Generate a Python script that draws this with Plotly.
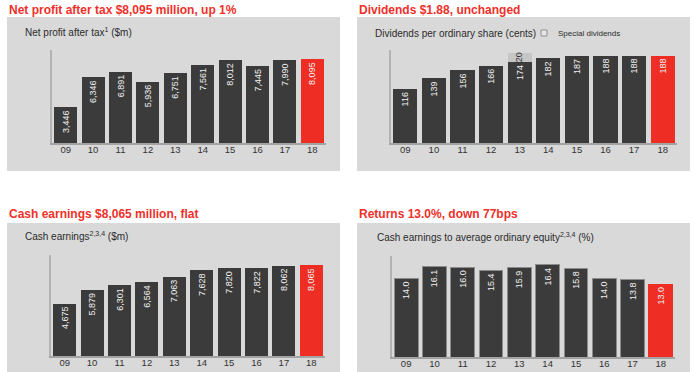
import plotly.graph_objects as go

# ---------------- data ----------------
years = ["09", "10", "11", "12", "13", "14", "15", "16", "17", "18"]
net_profit = [3446, 6346, 6891, 5936, 6751, 7561, 8012, 7445, 7990, 8095]
dividends = [116, 139, 156, 166, 174, 182, 187, 188, 188, 188]
special_div = [0, 0, 0, 0, 20, 0, 0, 0, 0, 0]
cash_earnings = [4675, 5879, 6301, 6564, 7063, 7628, 7820, 7822, 8062, 8065]
returns = [14.0, 16.1, 16.0, 15.4, 15.9, 16.4, 15.8, 14.0, 13.8, 13.0]

titles = ["Net profit after tax $8,095 million, up 1%",
          "Dividends $1.88, unchanged",
          "Cash earnings $8,065 million, flat",
          "Returns 13.0%, down 77bps"]
subtitles = ["Net profit after tax<sup>1</sup> ($m)",
             "Dividends per ordinary share (cents)",
             "Cash earnings<sup>2,3,4</sup> ($m)",
             "Cash earnings to average ordinary equity<sup>2,3,4</sup> (%)"]
legend_label = "Special dividends"

# ---------------- style ----------------
W, H = 695, 372
DARK = "#3c3b3b"
RED = "#ee2d24"
PANEL = "#d9d9d9"
SPECIAL = "#c6c6c6"
TITLE_RED = "#f0302a"
FONT = "Liberation Sans, Arial, sans-serif"


def fx(x):
    return x / W


def fy(y):
    return 1 - y / H


def colors(n):
    return [DARK] * (n - 1) + [RED]


fig = go.Figure()

panels = [
    dict(vals=net_profit, text=[f"{v:,}" for v in net_profit], n="", xd=(52, 326), yd=(50, 143), rng=9000,
         box=(7, 17, 340, 171), title_xy=(7, 10), sub_xy=(23, 32), outline=None),
    dict(vals=dividends, text=[str(v) for v in dividends], n="2", xd=(391, 677), yd=(50, 143), rng=200,
         box=(357, 17, 690, 171), title_xy=(357, 10), sub_xy=(373, 33), outline=None),
    dict(vals=cash_earnings, text=[f"{v:,}" for v in cash_earnings], n="3", xd=(51, 325), yd=(255, 356), rng=9000,
         box=(7, 223, 340, 372), title_xy=(7, 214), sub_xy=(23, 236), outline=None),
    dict(vals=returns, text=[f"{v:.1f}" for v in returns], n="4", xd=(392, 675), yd=(256, 357), rng=18,
         box=(357, 223, 690, 372), title_xy=(357, 214), sub_xy=(375, 237), outline="#8c8c8c"),
]

shapes = []
annotations = []
layout_axes = {}

for i, p in enumerate(panels):
    xa = "x" + p["n"]
    ya = "y" + p["n"]
    mline = dict(color=[p["outline"]] * 9 + [RED], width=1) if p["outline"] else dict(width=0)
    fig.add_trace(go.Bar(
        x=years, y=p["vals"], xaxis=xa, yaxis=ya,
        marker=dict(color=colors(len(years)), line=mline),
        text=p["text"], textposition="inside", insidetextanchor="end", textangle=-90,
        textfont=dict(color="#f2f2f2", size=9, family=FONT),
        hoverinfo="skip",
    ))
    if i == 1:
        fig.add_trace(go.Bar(
            x=years, y=special_div, xaxis=xa, yaxis=ya,
            marker=dict(color=SPECIAL, line=dict(width=0)),
            hoverinfo="skip",
        ))
        for k, (base, sp) in enumerate(zip(dividends, special_div)):
            if sp:
                annotations.append(dict(x=k, y=base + sp / 2, xref=xa, yref=ya, text=str(sp),
                                        textangle=-90, showarrow=False,
                                        font=dict(size=9, color="#333333", family=FONT)))

    layout_axes["xaxis" + p["n"]] = dict(
        domain=[fx(p["xd"][0]), fx(p["xd"][1])], anchor=ya, type="category",
        range=[-0.5, len(years) - 0.5], showline=True, linecolor="#a3a3a3", linewidth=2,
        ticks="", showgrid=False, zeroline=False, fixedrange=True, ticklabelstandoff=-3,
        tickfont=dict(size=9.5, color="#333333", family=FONT),
    )
    layout_axes["yaxis" + p["n"]] = dict(
        domain=[fy(p["yd"][1]), fy(p["yd"][0])], anchor=xa, range=[0, p["rng"]],
        showline=True, linecolor="#b3b3b3", linewidth=1.5, showticklabels=False,
        ticks="", showgrid=False, zeroline=False, fixedrange=True,
    )

    x0, y0, x1, y1 = p["box"]
    shapes.append(dict(type="rect", xref="paper", yref="paper", x0=fx(x0), x1=fx(x1),
                       y0=fy(y1), y1=fy(y0), fillcolor=PANEL, line=dict(width=0), layer="below"))
    annotations.append(dict(xref="paper", yref="paper", x=fx(p["title_xy"][0]), y=fy(p["title_xy"][1]),
                            xanchor="left", yanchor="middle", showarrow=False, text="<b>" + titles[i] + "</b>",
                            font=dict(size=12, color=TITLE_RED, family=FONT)))
    annotations.append(dict(xref="paper", yref="paper", x=fx(p["sub_xy"][0]), y=fy(p["sub_xy"][1]),
                            xanchor="left", yanchor="middle", showarrow=False, text=subtitles[i],
                            font=dict(size=10, color="#2b2b2b", family=FONT)))

# legend for special dividends
shapes.append(dict(type="rect", xref="paper", yref="paper", x0=fx(541), x1=fx(547), y0=fy(36), y1=fy(30),
                   fillcolor="#e6e6e6", line=dict(width=1, color="#8f8f8f")))
annotations.append(dict(xref="paper", yref="paper", x=fx(556), y=fy(33), xanchor="left", yanchor="middle",
                        showarrow=False, text=legend_label,
                        font=dict(size=8, color="#2b2b2b", family=FONT)))

fig.update_layout(
    width=W, height=H, margin=dict(l=0, r=0, t=0, b=0),
    paper_bgcolor="white", plot_bgcolor="rgba(0,0,0,0)",
    barmode="stack", bargap=0.16, showlegend=False,
    shapes=shapes, annotations=annotations,
    font=dict(family=FONT),
    **layout_axes,
)

fig.write_html("out.html", config={"displayModeBar": False},
               post_script="document.body.style.margin='0';document.body.style.overflow='hidden';")
